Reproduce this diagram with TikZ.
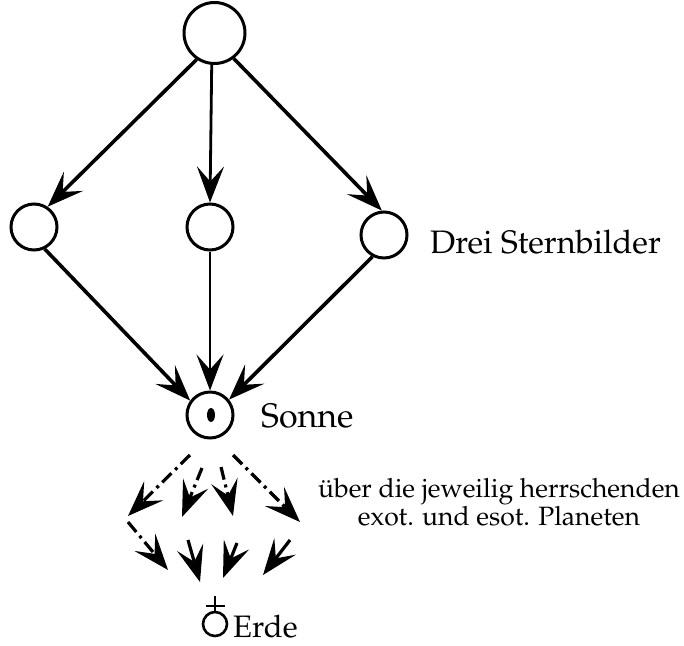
\documentclass[tikz,border=0pt]{standalone}
\usepackage[T1]{fontenc}
\usepackage{mathpazo}
\usetikzlibrary{arrows.meta}
\begin{document}
\begin{tikzpicture}[x=1pt,y=-1pt,
  >={Stealth[length=36pt,width=27pt,inset=15pt]},
  star/.style={circle, draw, line width=3pt, minimum size=46pt, inner sep=0pt},
  bigstar/.style={star, minimum size=61pt},
  arr/.style={->, line width=3.6pt},
  thinarr/.style={->, line width=2.8pt},
  dd/.style={->, line width=3.2pt, dash pattern=on 13pt off 5pt on 3pt off 5pt},
  sarr/.style={->, line width=3.2pt},
  lbl/.style={inner sep=0pt, anchor=base west},
]
\useasboundingbox (0,0) rectangle (684,645);
% nodes
\node[bigstar] (top) at (214.5,33) {};
\node[star] (L) at (34,227) {};
\node[star] (M) at (210,227) {};
\node[star] (R) at (384,235) {};
\node[star] (S) at (210,415) {};
\fill (211,415) ellipse [x radius=4pt, y radius=7pt];
% labels
\node[lbl, font=\fontsize{32.5}{33}\selectfont] (drei) at (430,253) {Drei Sternbilder};
\node[lbl, font=\fontsize{34}{34}\selectfont] (sonne) at (261,427) {Sonne};
\node[inner sep=0pt, align=center, anchor=base, font=\fontsize{26.5}{28}\selectfont] (ueber) at (499,525)
  {\"uber die jeweilig herrschenden\\ exot. und esot. Planeten};
\node[lbl, font=\fontsize{31}{31}\selectfont] (erde) at (233,637) {Erde};
% earth symbol
\node[circle, draw, line width=2.6pt, minimum size=24pt, inner sep=0pt] (E) at (215,624) {};
\coordinate (Etop) at (215,596);
\draw[line width=2.6pt] (E.north) -- (Etop);
\coordinate (Ecl) at (206,606);
\coordinate (Ecr) at (225,606);
\draw[line width=2.6pt] (Ecl) -- (Ecr);
% upper arrows
\draw[arr] (top.236) -- (L.56);
\draw[thinarr] (top.265) -- (M.north);
\draw[arr] (top.-53) -- (R.95);
\draw[arr] (L.-64) -- (S.144);
\draw[thinarr] (M.south) -- (S.north);
\draw[arr] (R.242) -- (S.39);
% dash-dot arrows
\coordinate (d1s) at (190,455);
\coordinate (d1e) at (128,516);
\coordinate (d5s) at (128,522);
\coordinate (d5e) at (168,570);
\coordinate (d2s) at (202,468);
\coordinate (d2e) at (182,517);
\coordinate (d3s) at (221,467);
\coordinate (d3e) at (233,516);
\coordinate (d4s) at (233,455);
\coordinate (d4e) at (300,522);
\draw[dd] (d1s) -- (d1e);
\draw[dd] (d5s) -- (d5e);
\draw[dd] (d2s) -- (d2e);
\draw[dd] (d3s) -- (d3e);
\draw[dd] (d4s) -- (d4e);
% solid lower arrows
\coordinate (s6s) at (188,540);
\coordinate (s6e) at (200,582);
\coordinate (s7s) at (237,543);
\coordinate (s7e) at (223,578);
\coordinate (s8s) at (290,540);
\coordinate (s8e) at (263,575);
\draw[sarr] (s6s) -- (s6e);
\draw[sarr] (s7s) -- (s7e);
\draw[sarr] (s8s) -- (s8e);
\end{tikzpicture}
\end{document}
